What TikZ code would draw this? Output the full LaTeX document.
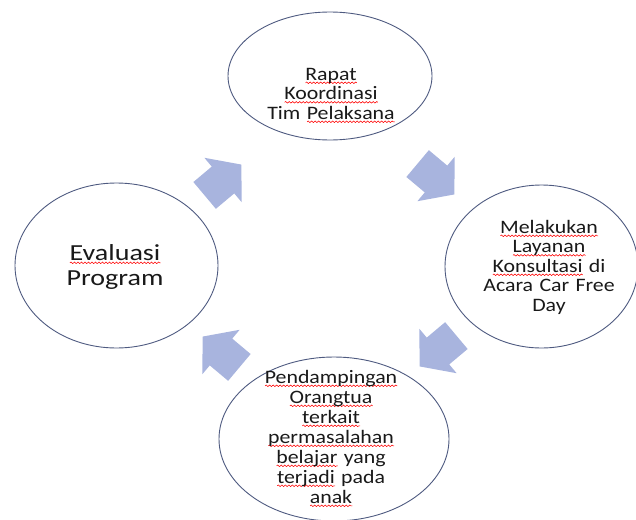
\documentclass[tikz,border=0pt]{standalone}
\usepackage{fontspec}
\usetikzlibrary{shapes.geometric,decorations.pathmorphing}
\setmainfont{Carlito}
\newfontfamily\txtf[FakeStretch=1.15]{Carlito}
\newfontfamily\bigtxtf[FakeStretch=1.22]{Carlito}
\definecolor{ringc}{RGB}{78,90,128}
\definecolor{arrc}{RGB}{168,180,222}
\definecolor{inkc}{RGB}{25,25,25}
\newsavebox\sqbox
\newlength\sqlen
\newcommand\sqw[1]{\leavevmode\sbox\sqbox{#1}\setlength\sqlen{\wd\sqbox}%
  \rlap{\tikz[x=1pt,y=1pt,baseline=0pt]\draw[red,line width=0.55pt,decorate,decoration={snake,amplitude=0.8pt,segment length=3.5pt}] (0pt,-2.8pt) -- (\sqlen,-2.8pt);}\usebox\sqbox}
\tikzset{
  ring/.style={ellipse, draw=ringc, line width=0.9pt, inner sep=0pt},
  txt/.style={text width=220pt, align=center, inner sep=0pt, text=inkc,
    font=\txtf\fontsize{19}{19.5}\selectfont},
  bigtxt/.style={text width=200pt, align=center, inner sep=0pt, text=inkc,
    font=\bigtxtf\fontsize{23}{25}\selectfont},
  blockarrow/.pic={\fill[arrc] (-24,-17.5) -- (0,-17.5) -- (0,-29) -- (24,0) -- (0,29) -- (0,17.5) -- (-24,17.5) -- cycle;}
}
\begin{document}
\begin{tikzpicture}[x=1pt, y=-1pt]
\useasboundingbox (0,0) rectangle (636,519);
% circles
\node[ring, minimum width=204pt, minimum height=128pt] (ctop) at (330,76) {};
\node[ring, minimum width=193pt, minimum height=163pt] (cright) at (541.5,266.5) {};
\node[ring, minimum width=203pt, minimum height=165pt] (cleft) at (116.5,265.5) {};
\node[ring, minimum width=230pt, minimum height=164pt] (cbot) at (334,439) {};
% texts
\node[txt, anchor=base] (ttop) at (331,80) {\sqw{Rapat}\\ \sqw{Koordinasi}\\ Tim \sqw{Pelaksana}};
\node[txt, anchor=base] (tright) at (549,233) {\sqw{Melakukan}\\ \sqw{Layanan}\\ \sqw{Konsultasi} di\\ Acara Car Free\\ Day};
\node[bigtxt, anchor=base] (tleft) at (115,260) {\sqw{Evaluasi}\\ Program};
\node[txt, anchor=base, font=\txtf\fontsize{19}{20}\selectfont] (tbot) at (331,383) {\sqw{Pendampingan}\\ \sqw{Orangtua}\\ \sqw{terkait}\\ \sqw{permasalahan}\\ \sqw{belajar} yang\\ \sqw{terjadi} pada\\ \sqw{anak}};
% block arrows
\pic[rotate=40] (ane) at (223,180) {blockarrow};
\pic[rotate=-40] (ase) at (436,179) {blockarrow};
\pic[rotate=220] (asw) at (438,351) {blockarrow};
\pic[rotate=140] (anw) at (221,352) {blockarrow};
\end{tikzpicture}
\end{document}
